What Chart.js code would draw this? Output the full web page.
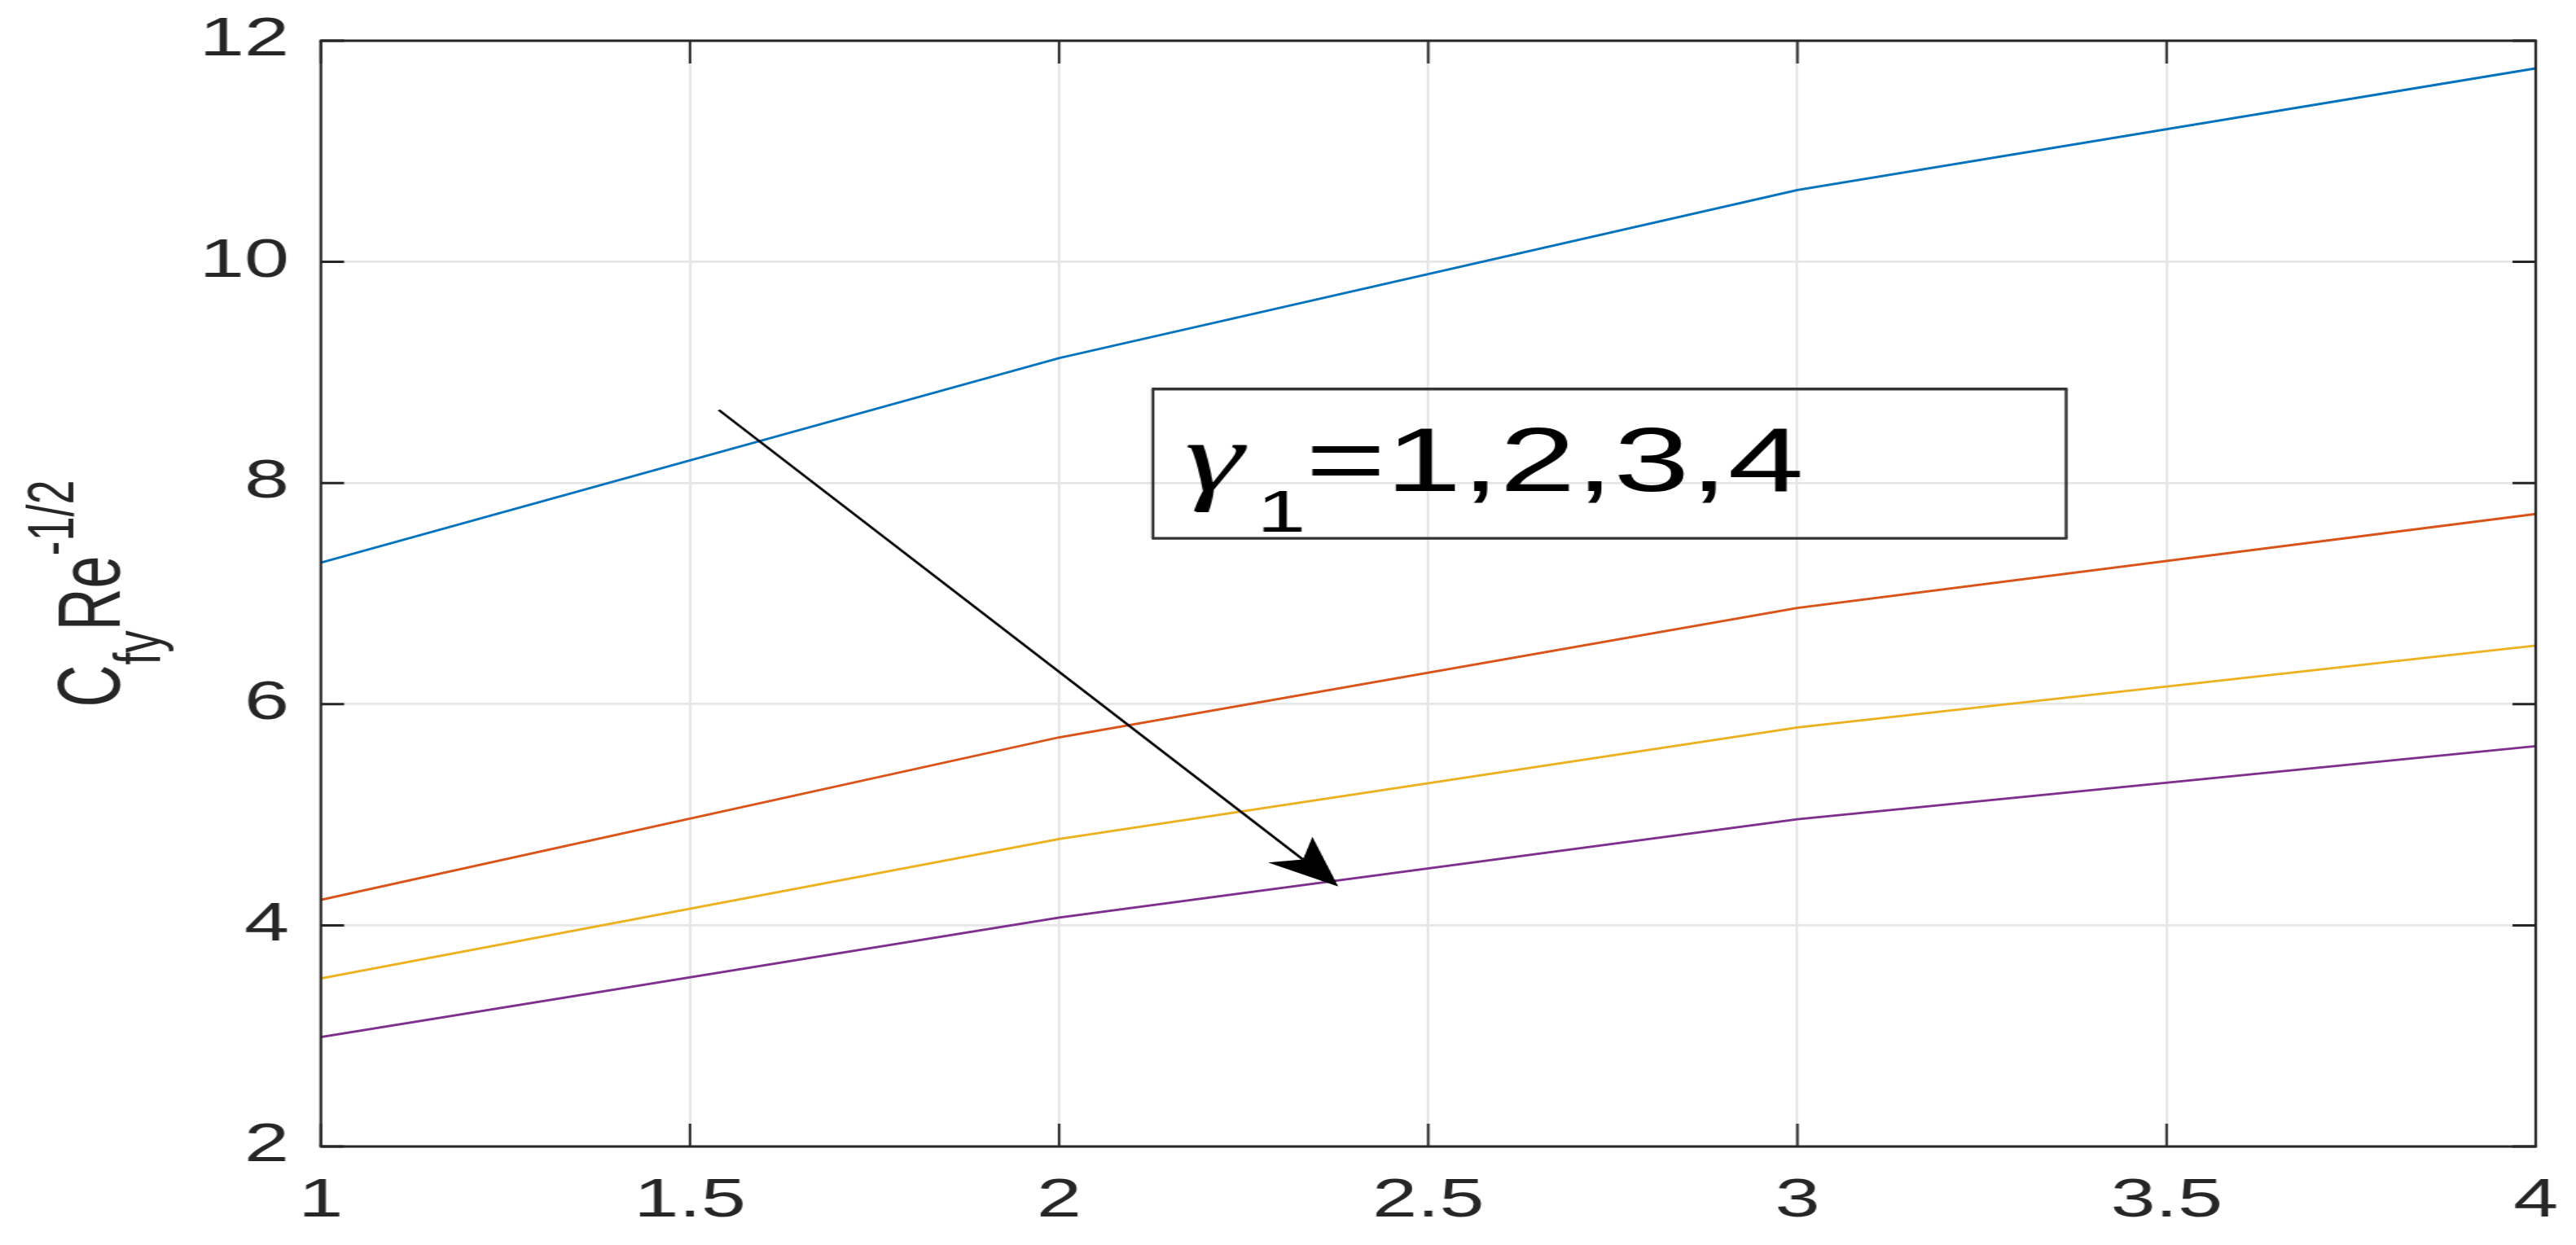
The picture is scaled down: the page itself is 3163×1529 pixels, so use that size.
<!DOCTYPE html>
<html><head><meta charset="utf-8">
<script src="https://cdn.jsdelivr.net/npm/chart.js@4.4.1/dist/chart.umd.min.js"></script>
<style>
html,body{margin:0;padding:0;background:#fff;overflow:hidden;}
#wrap{position:absolute;left:0;top:0;width:2109px;height:1529px;transform:scaleX(1.49976);transform-origin:0 0;}
canvas{display:block;}
</style></head><body>
<div id="wrap"><canvas id="c" width="2109" height="1529"></canvas></div>
<script>
// ---- data ----
const xValues = [1, 2, 3, 4];
const gamma1 = [7.28, 9.13, 10.65, 11.75];
const gamma2 = [4.23, 5.70, 6.87, 7.72];
const gamma3 = [3.52, 4.78, 5.79, 6.53];
const gamma4 = [2.99, 4.07, 4.96, 5.62];
const seriesNames = ['γ1=1', 'γ1=2', 'γ1=3', 'γ1=4'];
const seriesColors = ['#0072BD', '#D95319', '#EDB120', '#7E2F8E'];
const xTicks = [1, 1.5, 2, 2.5, 3, 3.5, 4];
const yTicks = [2, 4, 6, 8, 10, 12];
const labelGreek = 'γ', labelSub = '1', labelRest = '=1,2,3,4';
const arrowFrom = {x: 1.539, y: 8.66};
const arrowTo = {x: 2.378, y: 4.35};
const labelBox = {x1: 2.127, x2: 3.364, y1: 8.85, y2: 7.5};

const FONT = "'Liberation Sans', Arial, sans-serif";
const allSeries = [gamma1, gamma2, gamma3, gamma4];

const overlay = {
  id: 'overlay',
  afterDatasetsDraw(chart) {
    const {ctx, chartArea: a, scales: {x, y}} = chart;
    ctx.save();
    ctx.strokeStyle = '#262626';
    ctx.lineWidth = 3;
    yTicks.forEach(v => {
      const py = y.getPixelForValue(v);
      ctx.beginPath();
      ctx.moveTo(a.left, py); ctx.lineTo(a.left + 19, py);
      ctx.moveTo(a.right, py); ctx.lineTo(a.right - 19, py);
      ctx.stroke();
    });
    ctx.lineWidth = 2;
    xTicks.forEach(v => {
      const px = x.getPixelForValue(v);
      ctx.beginPath();
      ctx.moveTo(px, a.bottom); ctx.lineTo(px, a.bottom - 28);
      ctx.moveTo(px, a.top); ctx.lineTo(px, a.top + 28);
      ctx.stroke();
    });
    ctx.lineWidth = 3;
    ctx.beginPath();
    ctx.moveTo(a.left - 1.1, a.top); ctx.lineTo(a.right + 1.1, a.top);
    ctx.moveTo(a.left - 1.1, a.bottom); ctx.lineTo(a.right + 1.1, a.bottom);
    ctx.stroke();
    ctx.lineWidth = 2.2;
    ctx.beginPath();
    ctx.moveTo(a.left, a.top); ctx.lineTo(a.left, a.bottom);
    ctx.moveTo(a.right, a.top); ctx.lineTo(a.right, a.bottom);
    ctx.stroke();
    ctx.restore();
  },
  afterDraw(chart) {
    const {ctx, chartArea: a, scales: {x, y}} = chart;
    ctx.save();
    // annotation box
    const bx1 = x.getPixelForValue(labelBox.x1), bx2 = x.getPixelForValue(labelBox.x2);
    const by1 = y.getPixelForValue(labelBox.y1), by2 = y.getPixelForValue(labelBox.y2);
    ctx.strokeStyle = '#333333';
    ctx.lineWidth = 3.3;
    ctx.beginPath();
    ctx.moveTo(bx1 - 1, by1); ctx.lineTo(bx2 + 1, by1);
    ctx.moveTo(bx1 - 1, by2); ctx.lineTo(bx2 + 1, by2);
    ctx.stroke();
    ctx.lineWidth = 2.4;
    ctx.beginPath();
    ctx.moveTo(bx1, by1); ctx.lineTo(bx1, by2);
    ctx.moveTo(bx2, by1); ctx.lineTo(bx2, by2);
    ctx.stroke();
    // label text
    ctx.fillStyle = '#000';
    ctx.textBaseline = 'alphabetic';
    ctx.textAlign = 'left';
    const base = by1 + 125;
    ctx.font = "italic 122px 'Liberation Serif', serif";
    ctx.fillText(labelGreek, bx1 + 26, base);
    ctx.font = "72px " + FONT;
    ctx.fillText(labelSub, bx1 + 85, base + 50);
    ctx.font = "112px " + FONT;
    ctx.fillText(labelRest, bx1 + 125, base);
    // arrow
    const x0 = x.getPixelForValue(arrowFrom.x), y0 = y.getPixelForValue(arrowFrom.y);
    const x1 = x.getPixelForValue(arrowTo.x), y1 = y.getPixelForValue(arrowTo.y);
    const ang = Math.atan2(y1 - y0, x1 - x0);
    const L = 60, W = 24, N = 44;
    ctx.strokeStyle = '#000';
    ctx.lineWidth = 2.4;
    ctx.beginPath();
    ctx.moveTo(x0, y0);
    ctx.lineTo(x1 - Math.cos(ang) * N, y1 - Math.sin(ang) * N);
    ctx.stroke();
    ctx.save();
    ctx.translate(x1, y1);
    ctx.rotate(ang);
    ctx.beginPath();
    ctx.moveTo(0, 0);
    ctx.lineTo(-L, -W);
    ctx.lineTo(-N, 0);
    ctx.lineTo(-L, W);
    ctx.closePath();
    ctx.fillStyle = '#000';
    ctx.fill();
    ctx.restore();
    // y-axis title: C_fy Re^{-1/2}
    const F = 72, S = 54;
    const parts = [
      {t: 'C', f: F, dy: 0},
      {t: 'fy', f: S, dy: 33},
      {t: 'Re', f: F, dy: 0},
      {t: '-1/2', f: S, dy: -38}
    ];
    let total = 0;
    parts.forEach(p => { ctx.font = p.f + 'px ' + FONT; p.w = ctx.measureText(p.t).width; total += p.w; });
    ctx.translate(98, (a.top + a.bottom) / 2);
    ctx.rotate(-Math.PI / 2);
    ctx.fillStyle = '#262626';
    let cx = -total / 2;
    parts.forEach(p => { ctx.font = p.f + 'px ' + FONT; ctx.fillText(p.t, cx, p.dy); cx += p.w; });
    ctx.restore();
  }
};

new Chart(document.getElementById('c'), {
  type: 'line',
  data: {
    datasets: allSeries.map((s, i) => ({
      label: seriesNames[i],
      data: xValues.map((xv, j) => ({x: xv, y: s[j]})),
      borderColor: seriesColors[i],
      backgroundColor: seriesColors[i],
      borderWidth: 2.8,
      pointRadius: 0,
      tension: 0,
      fill: false
    }))
  },
  options: {
    responsive: false,
    animation: false,
    devicePixelRatio: 1,
    layout: {padding: {top: 50, right: 33, left: 0, bottom: 0}},
    plugins: {legend: {display: false}, tooltip: {enabled: false}, title: {display: false}},
    scales: {
      x: {
        type: 'linear', min: 1, max: 4,
        afterBuildTicks: s => { s.ticks = xTicks.map(v => ({value: v})); },
        afterFit: s => { s.height = 121; s.paddingLeft = 0; s.paddingRight = 0; },
        ticks: {font: {size: 66, family: FONT}, color: '#262626', padding: 28, maxRotation: 0,
                callback: v => String(v)},
        grid: {color: '#e6e6e6', lineWidth: 2.2, drawTicks: false},
        border: {display: false}
      },
      y: {
        type: 'linear', min: 2, max: 12,
        afterBuildTicks: s => { s.ticks = yTicks.map(v => ({value: v})); },
        afterFit: s => { s.width = 262.7; s.paddingTop = 0; s.paddingBottom = 0; },
        ticks: {font: {size: 66, family: FONT}, color: '#262626', padding: 26,
                callback: v => String(v)},
        grid: {color: '#e6e6e6', lineWidth: 2.7, drawTicks: false},
        border: {display: false}
      }
    }
  },
  plugins: [overlay]
});
</script>
</body></html>
